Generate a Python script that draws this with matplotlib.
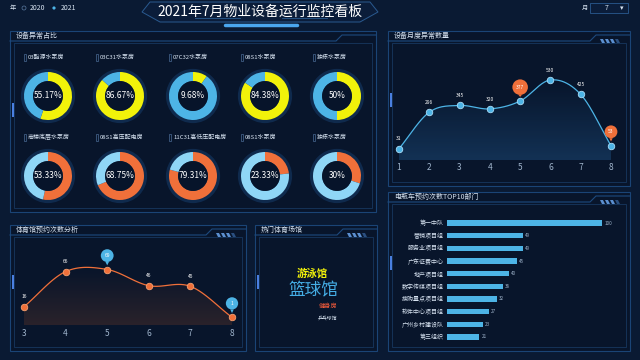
import numpy as np
import matplotlib
matplotlib.use("Agg")
from matplotlib import pyplot as plt
from matplotlib.patches import Rectangle, Polygon, Circle
from matplotlib.colors import LinearSegmentedColormap

plt.rcParams['font.family'] = ['Noto Sans CJK SC', 'DejaVu Sans']

# ---- data ----
donut_top_names = ["03酯源水泵房", "03C31水泵房", "07C32水泵房", "08S1水泵房", "独栋水泵房"]
donut_top_vals = [55.17, 86.67, 9.68, 84.38, 50]
donut_bot_names = ["商楼底层水泵房", "08S1高压配电房", "11C31高低压配电房", "08S1水泵房", "独栋水泵房"]
donut_bot_vals = [53.33, 68.75, 79.31, 23.33, 30]

months = [1, 2, 3, 4, 5, 6, 7, 8]
month_counts = [31, 296, 345, 320, 377, 530, 425, 53]
month_pins = [5, 8]

gym_months = [3, 4, 5, 6, 7, 8]
gym_counts = [16, 66, 69, 46, 45, 1]
gym_pins = [5, 8]

dept_names = ["第一中队", "营销项目组", "服务业项目组", "广东征费中心", "地产项目组",
              "数字传媒项目组", "搜购量点项目组", "软件中心项目组", "广州乡村建设队", "第三组织"]
dept_counts = [100, 49, 49, 45, 40, 36, 32, 27, 23, 21]

venues = ["游泳馆", "篮球馆", "健身房", "乒乓球馆"]

# ---- colours ----
BG = "#0a1a33"
PANEL = "#08152b"
EDGE = "#1d4a7e"
YEL = "#f2f20a"
BLUE = "#4db4e6"
LBLUE = "#8fd6f6"
ORG = "#f0703a"
TXT = "#d8e4f2"

W, H = 640, 360
fig = plt.figure(figsize=(6.4, 3.6), dpi=100)
fig.patch.set_facecolor(BG)

bg = fig.add_axes([0, 0, 1, 1])
bg.set_xlim(0, W)
bg.set_ylim(H, 0)
bg.axis('off')


def px_axes(x0, y0, x1, y1):
    return fig.add_axes([x0 / W, 1 - y1 / H, (x1 - x0) / W, (y1 - y0) / H])


def smooth(x, y, n=24):
    # catmull-rom through the data points, only for drawing the line
    x = np.asarray(x, float)
    y = np.asarray(y, float)
    px = np.r_[2 * x[0] - x[1], x, 2 * x[-1] - x[-2]]
    py = np.r_[2 * y[0] - y[1], y, 2 * y[-1] - y[-2]]
    xs, ys = [], []
    t = np.linspace(0, 1, n, endpoint=False)
    for i in range(1, len(px) - 2):
        for p, out in ((px, xs), (py, ys)):
            p0, p1, p2, p3 = p[i - 1], p[i], p[i + 1], p[i + 2]
            out.extend(0.5 * (2 * p1 + (-p0 + p2) * t + (2 * p0 - 5 * p1 + 4 * p2 - p3) * t ** 2
                              + (-p0 + 3 * p1 - 3 * p2 + p3) * t ** 3))
    xs.append(x[-1])
    ys.append(y[-1])
    return np.array(xs), np.array(ys)


def panel(x0, y0, x1, y1, title, stripes=True):
    bg.add_patch(Rectangle((x0, y0), x1 - x0, y1 - y0, fc=PANEL, ec=EDGE, lw=0.8, alpha=0.9))
    bg.plot([x0, x1 - 40, x1 - 34, x1], [y0 + 10, y0 + 10, y0 + 4, y0 + 4], color=EDGE, lw=0.8)
    bg.add_patch(Rectangle((x0 + 4, y0 + 12), x1 - x0 - 8, y1 - y0 - 16, fc='none', ec="#17375f", lw=0.6))
    bg.text(x0 + 6, y0 + 5, title, color=TXT, fontsize=5, va='center', ha='left')
    if stripes:
        for k in range(4):
            xs = x1 - 30 + k * 5
            bg.add_patch(Polygon([[xs, y0 + 8], [xs + 3, y0 + 8], [xs + 5, y0 + 12], [xs + 2, y0 + 12]],
                                 closed=True, fc="#5b8fd0" if k < 3 else "#2a4f80", ec='none'))
    bg.add_patch(Rectangle((x0 + 1.5, y0 + (y1 - y0) * 0.4), 2, 14, fc="#4a7fe0", ec='none'))


# ---- header ----
bg.add_patch(Polygon([[150, 2], [370, 2], [378, 12], [360, 22], [160, 22], [142, 12]], closed=True,
                     fc="#0b1d3a", ec="#2a5a90", lw=0.7))
bg.plot([225, 297], [25, 25], color="#4aa6ee", lw=2.5, solid_capstyle='round')
bg.plot([195, 240], [18, 18], color="#2a5a90", lw=0.6)
bg.plot([282, 327], [18, 18], color="#2a5a90", lw=0.6)
bg.text(260, 12, "2021年7月物业设备运行监控看板", color='white', fontsize=10, ha='center', va='center')
bg.text(10, 8, "年", color=TXT, fontsize=4.5, va='center')
bg.add_patch(Circle((24, 8), 2, fc='none', ec="#5a7aa0", lw=0.5))
bg.text(30, 8, "2020", color=TXT, fontsize=5, va='center')
bg.add_patch(Circle((54, 8), 1.6, fc=BLUE, ec='none'))
bg.text(61, 8, "2021", color=TXT, fontsize=5, va='center')
bg.text(582, 8, "月", color=TXT, fontsize=4.5, va='center')
bg.add_patch(Rectangle((590, 3), 38, 10, fc="#0b1d3a", ec="#2a5a90", lw=0.6))
bg.text(605, 8, "7", color=TXT, fontsize=5, va='center')
bg.text(622, 8, "▾", color=TXT, fontsize=5, va='center', ha='center')

# ---- panels ----
panel(10, 31, 376, 212, "设备异常占比", stripes=False)
panel(388, 31, 630, 186, "设备月度异常数量")
panel(10, 225, 246, 351, "体育馆预约次数分析")
panel(255, 225, 377, 351, "热门体育场馆")
panel(388, 192, 630, 351, "电瓶车预约次数TOP10部门")

# ---- donuts ----
centers_x = [48, 120, 193, 265, 337]
for row, (names, vals, c1, c2, cy, ty) in enumerate([
        (donut_top_names, donut_top_vals, YEL, BLUE, 96, 57),
        (donut_bot_names, donut_bot_vals, ORG, LBLUE, 176, 137)]):
    for cx, name, v in zip(centers_x, names, vals):
        ax = px_axes(cx - 30, cy - 30, cx + 30, cy + 30)
        ax.set_xlim(-1.2, 1.2)
        ax.set_ylim(-1.2, 1.2)
        ax.set_aspect('equal')
        ax.axis('off')
        ax.add_patch(Circle((0, 0), 1.13, fc="#0f2a4d", ec='none'))
        ax.pie([v, 100 - v], colors=[c1, c2], startangle=90, counterclock=False,
               radius=1.0, wedgeprops=dict(width=0.38, edgecolor='none'))
        ax.add_patch(Circle((0, 0), 0.62, fc="#07142a", ec='none'))
        ax.text(0, 0, f"{v:g}%", color='white', fontsize=6, ha='center', va='center')
        bg.add_patch(Rectangle((cx - 24, ty - 3.5), 1.6, 7, fc='none', ec="#4a6a95", lw=0.5))
        bg.text(cx - 20, ty, name, color=TXT, fontsize=4.3, va='center', ha='left')


def pin(ax, x, y, color, text):
    ax.annotate(text, xy=(x, y), xytext=(0, 10), textcoords='offset points',
                ha='center', va='center', fontsize=3.5, color='white',
                bbox=dict(boxstyle='circle,pad=0.75', fc=color, ec='none'),
                arrowprops=dict(arrowstyle='wedge,tail_width=0.7,shrink_factor=0.5', fc=color, ec='none',
                                shrinkA=0, shrinkB=3),
                annotation_clip=False, zorder=6)


def area_line(ax, x, y, color, fill_top, y_low):
    sx, sy = smooth(x, y)
    ax.plot(sx, sy, color=color, lw=0.9, zorder=3)
    verts = np.column_stack([np.r_[sx, sx[-1], sx[0]], np.r_[sy, y_low, y_low]])
    poly = Polygon(verts, closed=True, fc='none', ec='none')
    ax.add_patch(poly)
    grad = np.linspace(0, 1, 100).reshape(-1, 1)
    cmap = LinearSegmentedColormap.from_list("g", [fill_top, PANEL])
    img = ax.imshow(grad, cmap=cmap, extent=[sx[0], sx[-1], sy.max(), y_low], origin='upper',
                    aspect='auto', zorder=1, alpha=0.8)
    img.set_clip_path(poly)


# ---- monthly anomalies ----
ax = px_axes(399, 60, 611, 160)
ax.set_xlim(1, 8)
ax.set_ylim(-51, 675)
ax.patch.set_alpha(0)
for s in ax.spines.values():
    s.set_visible(False)
area_line(ax, months, month_counts, BLUE, "#16395f", -51)
ax.scatter(months, month_counts, s=22, color=BLUE, edgecolor="#a8dcf8", lw=0.6, zorder=5, clip_on=False)
for m, c in zip(months, month_counts):
    if m in month_pins:
        pin(ax, m, c, ORG, str(c))
    else:
        ax.annotate(str(c), (m, c), xytext=(0, 6), textcoords='offset points', ha='center',
                    fontsize=3.5, color='white', annotation_clip=False)
ax.set_xticks(months)
ax.set_xticklabels([str(m) for m in months])
ax.tick_params(axis='x', length=0, pad=2, labelsize=6, labelcolor="#9fb4cc")
ax.set_yticks([])

# ---- gym bookings ----
ax = px_axes(24, 240, 232, 325)
ax.set_xlim(3, 8)
ax.set_ylim(-10, 111)
ax.patch.set_alpha(0)
for s in ax.spines.values():
    s.set_visible(False)
area_line(ax, gym_months, gym_counts, ORG, "#33262a", -10)
ax.scatter(gym_months, gym_counts, s=22, color=ORG, edgecolor="#f5a070", lw=0.6, zorder=5, clip_on=False)
for m, c in zip(gym_months, gym_counts):
    if m in gym_pins:
        pin(ax, m, c, BLUE, str(c))
    else:
        ax.annotate(str(c), (m, c), xytext=(0, 6), textcoords='offset points', ha='center',
                    fontsize=3.5, color='white', annotation_clip=False)
ax.set_xticks(gym_months)
ax.set_xticklabels([str(m) for m in gym_months])
ax.tick_params(axis='x', length=0, pad=3, labelsize=6, labelcolor="#9fb4cc")
ax.set_yticks([])

# ---- hot venues ----
bg.text(312, 273, venues[0], color=YEL, fontsize=7.5, ha='center', va='center', fontweight='bold')
bg.text(313, 291, venues[1], color="#45aee6", fontsize=12, ha='center', va='center')
bg.text(328, 306, venues[2], color="#f05a3a", fontsize=4.5, ha='center', va='center')
bg.text(327, 318, venues[3], color=TXT, fontsize=3.5, ha='center', va='center')

# ---- top10 bars ----
ax = px_axes(446.7, 216.7, 610, 343.3)
ypos = np.arange(len(dept_names))
ax.barh(ypos, dept_counts, height=0.42, color=BLUE)
ax.set_xlim(0, 104.9)
ax.set_ylim(9.5, -0.5)
ax.patch.set_alpha(0)
for s in ax.spines.values():
    s.set_visible(False)
ax.set_yticks(ypos)
ax.set_yticklabels(dept_names)
ax.tick_params(axis='y', length=0, pad=2, labelsize=4.3, labelcolor=TXT)
ax.set_xticks([])
for yy, v in zip(ypos, dept_counts):
    ax.text(v + 1.5, yy, str(v), fontsize=3.3, color="#9fb4cc", va='center', ha='left')

fig.savefig("out.png", dpi=100, facecolor=BG)
